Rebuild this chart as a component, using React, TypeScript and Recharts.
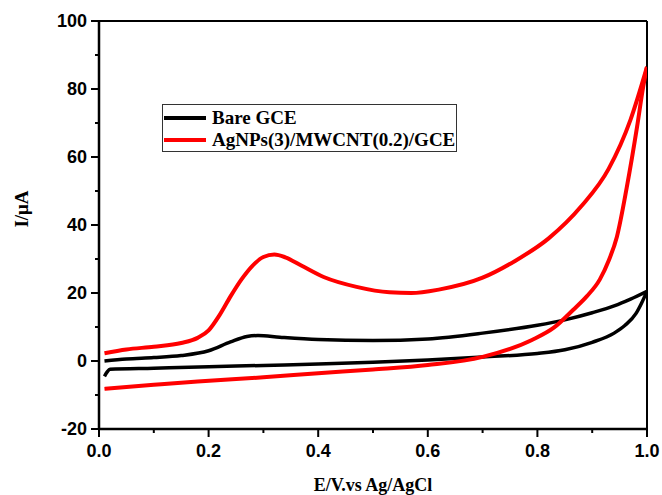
import { LineChart, Line, XAxis, YAxis, ReferenceLine } from 'recharts';

// potentials (V) and currents (uA) for each scan direction
const bareFwdE = [0.01, 0.05, 0.1, 0.15, 0.2, 0.24, 0.27, 0.29, 0.33, 0.4, 0.5, 0.6, 0.7, 0.8, 0.85, 0.9, 0.94, 0.97, 1.0];
const bareFwdI = [0, 0.6, 1.0, 1.6, 3.0, 5.6, 7.2, 7.5, 7.0, 6.3, 6.0, 6.5, 8.2, 10.5, 12.1, 14.2, 16.2, 18.2, 20.5];
const bareRevE = [0.01, 0.015, 0.02, 0.1, 0.2, 0.3, 0.4, 0.5, 0.6, 0.7, 0.8, 0.85, 0.9, 0.94, 0.96, 0.98, 0.99, 1.0];
const bareRevI = [-4.5, -3.2, -2.4, -2.1, -1.7, -1.3, -0.9, -0.4, 0.3, 1.2, 2.2, 3.3, 5.5, 8.2, 10.5, 14, 17, 20.5];

const agFwdE = [0.01, 0.05, 0.1, 0.15, 0.18, 0.2, 0.22, 0.24, 0.26, 0.28, 0.3, 0.32, 0.34, 0.37, 0.41, 0.47, 0.53, 0.57, 0.62, 0.7, 0.76, 0.82, 0.88, 0.93, 0.97, 1.0];
const agFwdI = [2.3, 3.4, 4.2, 5.3, 6.8, 9, 13.5, 19, 24, 28, 30.6, 31.3, 30.5, 28, 24.7, 21.8, 20.2, 20, 21, 24.5, 29.5, 36, 45.5, 56.5, 71, 86.5];
const agRevE = [0.01, 0.1, 0.18, 0.3, 0.4, 0.5, 0.6, 0.7, 0.79, 0.83, 0.865, 0.89, 0.914, 0.93, 0.945, 0.963, 0.982, 0.993, 1.0];
const agRevI = [-8.2, -7, -6, -4.8, -3.6, -2.5, -1.2, 1.2, 6.2, 9.8, 15, 19, 24, 29.5, 36.5, 51, 69, 80.6, 86.5];

const yTicks = [-20, -10, 0, 10, 20, 30, 40, 50, 60, 70, 80, 90, 100];
const xTicks = [0, 0.1, 0.2, 0.3, 0.4, 0.5, 0.6, 0.7, 0.8, 0.9, 1.0];

const legendItems = [
  { label: 'Bare GCE', color: '#000000' },
  { label: 'AgNPs(3)/MWCNT(0.2)/GCE', color: '#ff0000' },
];

const zip = (xs: number[], ys: number[]) => xs.map((x, i) => ({ x, y: ys[i] }));

const tickFont = { fontFamily: '"Liberation Sans", Arial, sans-serif', fontWeight: 700, fontSize: 18, fill: '#000' };
const serif = '"Liberation Serif", "Times New Roman", serif';

const YTick = ({ x, y, payload }: any) => {
  const major = Math.round(payload.value) % 20 === 0;
  return (
    <g>
      <line x1={x} x2={x - (major ? 8 : 4)} y1={y} y2={y} stroke="#000" strokeWidth={2} />
      {major && (
        <text x={x - 12} y={y} dy="0.36em" textAnchor="end" {...tickFont}>
          {payload.value}
        </text>
      )}
    </g>
  );
};

const XTick = ({ x, y, payload }: any) => {
  const major = Math.round(payload.value * 10) % 2 === 0;
  return (
    <g>
      <line x1={x} x2={x} y1={y} y2={y + (major ? 8 : 4)} stroke="#000" strokeWidth={2} />
      {major && (
        <text x={x} y={y + 22} dy="0.36em" textAnchor="middle" {...tickFont}>
          {payload.value.toFixed(1)}
        </text>
      )}
    </g>
  );
};

function ChartLegend() {
  return (
    <div
      style={{
        position: 'absolute',
        left: 162,
        top: 104,
        border: '1px solid #333',
        width: 295,
        height: 48,
        boxSizing: 'border-box',
        padding: '2px 0 0 1px',
        background: '#fff',
      }}
    >
      {legendItems.map((it) => (
        <div key={it.label} style={{ display: 'flex', alignItems: 'center', height: 22 }}>
          <div style={{ width: 42, height: 4, background: it.color, marginRight: 6 }} />
          <span style={{ fontFamily: serif, fontWeight: 700, fontSize: 19, color: '#000', lineHeight: '22px' }}>
            {it.label}
          </span>
        </div>
      ))}
    </div>
  );
}

export default function App() {
  return (
    <div style={{ position: 'absolute', left: 0, top: 0, width: 662, height: 495, background: '#fff' }}>
      <LineChart width={662} height={495} margin={{ top: 21, right: 15, left: 0, bottom: 0 }}>
        <XAxis
          dataKey="x"
          type="number"
          domain={[0, 1]}
          ticks={xTicks}
          tick={<XTick />}
          tickLine={false}
          tickSize={0}
          tickMargin={0}
          height={66}
          axisLine={{ stroke: '#000', strokeWidth: 2.5 }}
          allowDataOverflow
          label={{
            value: 'E/V.vs Ag/AgCl',
            position: 'insideBottom',
            offset: 4,
            style: { fontFamily: serif, fontWeight: 700, fontSize: 18, fill: '#000' },
          }}
        />
        <YAxis
          type="number"
          domain={[-20, 100]}
          ticks={yTicks}
          tick={<YTick />}
          tickLine={false}
          tickSize={0}
          tickMargin={0}
          width={99}
          axisLine={{ stroke: '#000', strokeWidth: 2.5 }}
          allowDataOverflow
          label={{
            value: 'I/μA',
            angle: -90,
            position: 'insideLeft',
            offset: 21,
            dy: -16,
            style: { fontFamily: serif, fontWeight: 700, fontSize: 19, fill: '#000', textAnchor: 'middle' },
          }}
        />
        <ReferenceLine y={100} stroke="#000" strokeWidth={2} ifOverflow="extendDomain" />
        <ReferenceLine x={1} stroke="#000" strokeWidth={2} ifOverflow="extendDomain" />
        <Line data={zip(bareFwdE, bareFwdI)} dataKey="y" type="monotoneX" stroke="#000" strokeWidth={3.5} dot={false} isAnimationActive={false} />
        <Line data={zip(bareRevE, bareRevI)} dataKey="y" type="monotoneX" stroke="#000" strokeWidth={3.5} dot={false} isAnimationActive={false} />
        <Line data={zip(agFwdE, agFwdI)} dataKey="y" type="monotoneX" stroke="#ff0000" strokeWidth={4} dot={false} isAnimationActive={false} />
        <Line data={zip(agRevE, agRevI)} dataKey="y" type="monotoneX" stroke="#ff0000" strokeWidth={4} dot={false} isAnimationActive={false} />
      </LineChart>
      <ChartLegend />
    </div>
  );
}
